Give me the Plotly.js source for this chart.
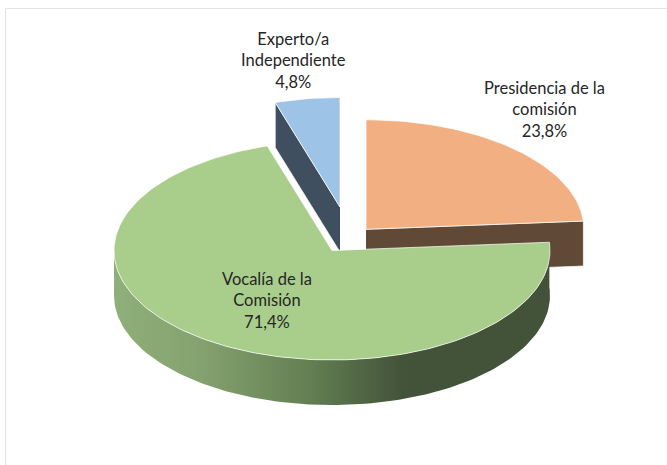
<!DOCTYPE html>
<html>
<head>
<meta charset="utf-8">
<script src="https://cdn.plot.ly/plotly-3.0.1.min.js"></script>
<style>html,body{margin:0;padding:0;background:#fff;overflow:hidden}</style>
</head>
<body>
<div id="chart" style="width:667px;height:465px"></div>
<script>
// Data
var categories = ['Presidencia de la<br>comisión', 'Vocalía de la<br>Comisión', 'Experto/a<br>Independiente'];
var percentLabels = ['23,8%', '71,4%', '4,8%'];
var values = [23.8, 71.4, 4.8];

// Drawing geometry (pixel-like plot units)
var RX = 218, RY = 109.5, DEPTH = 45;
var centers = [[366, 229.3], [332, 250.5], [340, 207]];
var topColors = ['#f2af82', '#a9ce8b', '#9dc3e6'];
var sideColors = ['#604a37', null, '#3f4f60'];
var labelPos = [[544, 109.5], [267, 300.5], [293, 60]];

function pt(c, deg, dy) {
  var a = deg * Math.PI / 180;
  return [c[0] + RX * Math.sin(a), c[1] - RY * Math.cos(a) + (dy || 0)];
}
function arc(c, a0, a1, dy) {
  var out = [], n = Math.max(2, Math.ceil((a1 - a0) / 1.5));
  for (var i = 0; i <= n; i++) out.push(pt(c, a0 + (a1 - a0) * i / n, dy));
  return out;
}
function poly(points, color, line, extra) {
  var t = {
    type: 'scatter', mode: 'lines', fill: 'toself', fillcolor: color,
    x: points.map(function (p) { return p[0]; }),
    y: points.map(function (p) { return p[1]; }),
    line: line || {width: 0, color: color},
    hoverinfo: 'skip', showlegend: false
  };
  if (extra) for (var k in extra) t[k] = extra[k];
  return t;
}

// Slice angles derived from the values
var total = values.reduce(function (a, b) { return a + b; }, 0);
var start = [], end = [], acc = 0;
values.forEach(function (v) { start.push(acc); acc += v / total * 360; end.push(acc); });

var edge = {width: 1, color: 'rgba(255,255,255,0.7)'};
var traces = [];

// Orange slice: inner cut face then top
var c0 = centers[0];
var p0e = pt(c0, end[0]);
traces.push(poly([[c0[0], c0[1]], p0e, [p0e[0], p0e[1] + DEPTH], [c0[0], c0[1] + DEPTH]], sideColors[0], edge));
traces.push(poly([[c0[0], c0[1]]].concat(arc(c0, start[0], end[0])).concat([[c0[0], c0[1]]]), topColors[0], edge));

// Blue slice: inner cut face then top
var c2 = centers[2];
var p2s = pt(c2, start[2]);
traces.push(poly([[c2[0], c2[1]], p2s, [p2s[0], p2s[1] + DEPTH], [c2[0], c2[1] + DEPTH]], sideColors[2], edge));
traces.push(poly([[c2[0], c2[1]]].concat(arc(c2, start[2], end[2])).concat([[c2[0], c2[1]]]), topColors[2], edge));

// Green slice: curved wall with gradient, then top
var c1 = centers[1];
var outer = arc(c1, end[0], 270);
var lower = arc(c1, end[0], 270, DEPTH).reverse();
traces.push(poly(outer.concat(lower).concat([outer[0]]), '#6f8f5c', {width: 0, color: '#6f8f5c'}, {
  fillgradient: {
    type: 'horizontal', start: 113, stop: 551,
    colorscale: [[0, '#8fb07a'], [0.2, '#84a26f'], [0.45, '#637f52'], [0.66, '#43533a'], [1, '#43533a']]
  }
}));
traces.push(poly([[c1[0], c1[1]]].concat(arc(c1, start[1], end[1])).concat([[c1[0], c1[1]]]), topColors[1], edge));

var annotations = categories.map(function (cat, i) {
  return {
    x: labelPos[i][0], y: labelPos[i][1], xref: 'x', yref: 'y',
    text: cat + '<br>' + percentLabels[i], showarrow: false, align: 'center',
    font: {family: 'Lato, "Open Sans", sans-serif', size: 16.5, color: '#262626'}
  };
});

var layout = {
  width: 667, height: 465,
  margin: {l: 0, r: 0, t: 0, b: 0},
  paper_bgcolor: '#fff', plot_bgcolor: '#fff',
  xaxis: {range: [0, 667], visible: false, fixedrange: true},
  yaxis: {range: [465, 0], visible: false, fixedrange: true},
  showlegend: false,
  annotations: annotations,
  shapes: [{type: 'rect', xref: 'x', yref: 'y', x0: 5.5, y0: 8.5, x1: 720, y1: 520,
            line: {color: '#e2e2e2', width: 1}, fillcolor: 'rgba(0,0,0,0)', layer: 'below'}]
};
Plotly.newPlot('chart', traces, layout, {displayModeBar: false, staticPlot: true});
</script>
</body>
</html>
